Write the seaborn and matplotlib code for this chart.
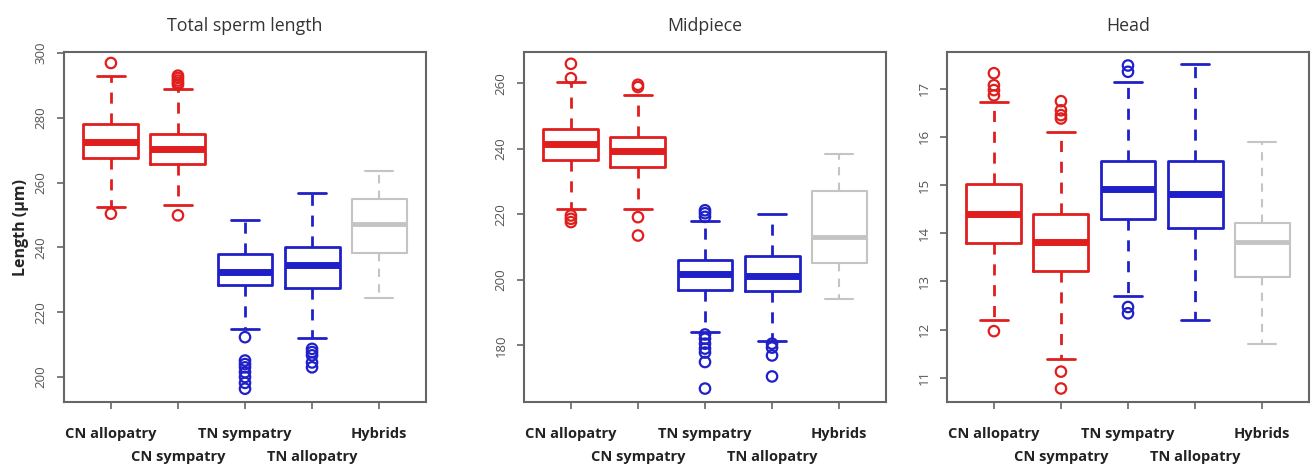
import pandas as pd
import seaborn as sns
import matplotlib.pyplot as plt

# categories
groups = ["CN allopatry", "CN sympatry", "TN sympatry", "TN allopatry", "Hybrids"]
colors = {"CN allopatry": "#e01e1e", "CN sympatry": "#e01e1e",
          "TN sympatry": "#2020c8", "TN allopatry": "#2020c8",
          "Hybrids": "#c4c4c4"}

# Total sperm length: whisker low, Q1, median, Q3, whisker high
total_low = [252.5, 253.0, 214.9, 212.0, 224.4]
total_q1 = [267.7, 265.8, 228.3, 227.6, 238.4]
total_med = [272.5, 270.5, 232.4, 234.5, 247.1]
total_q3 = [278.0, 275.1, 238.1, 240.1, 255.0]
total_high = [292.8, 289.0, 248.4, 256.8, 263.6]
total_out = [[296.9, 250.4],
             [293.0, 292.3, 291.5, 290.8, 290.2, 249.9],
             [212.3, 205.1, 204.0, 203.0, 201.5, 200.0, 198.2, 196.4],
             [208.7, 207.7, 206.7, 204.5, 203.0],
             []]

# Midpiece
mid_low = [221.7, 221.5, 184.0, 181.3, 194.2]
mid_q1 = [236.4, 234.4, 197.0, 196.6, 205.1]
mid_med = [241.5, 239.3, 201.8, 201.3, 213.2]
mid_q3 = [246.1, 243.7, 205.9, 207.4, 227.0]
mid_high = [260.3, 256.4, 217.9, 220.1, 238.4]
mid_out = [[265.9, 261.5, 219.6, 218.6, 217.6],
           [259.5, 258.8, 219.1, 213.5],
           [221.2, 220.3, 219.2, 183.3, 182.0, 180.5, 179.0, 177.8, 174.9, 166.8],
           [180.5, 179.3, 176.9, 170.5],
           []]

# Head
head_low = [12.21, 11.40, 12.69, 12.21, 11.70]
head_q1 = [13.80, 13.21, 14.29, 14.10, 13.10]
head_med = [14.41, 13.82, 14.91, 14.81, 13.82]
head_q3 = [15.02, 14.39, 15.50, 15.50, 14.21]
head_high = [16.72, 16.10, 17.14, 17.52, 15.89]
head_out = [[17.32, 17.07, 16.97, 16.86, 11.97],
            [16.74, 16.55, 16.45, 16.38, 11.13, 10.78],
            [17.48, 17.35, 12.47, 12.34],
            [],
            []]

panels = [
    ("Total sperm length", [total_low, total_q1, total_med, total_q3, total_high], total_out,
     (192.3, 300.3), [200, 220, 240, 260, 280, 300]),
    ("Midpiece", [mid_low, mid_q1, mid_med, mid_q3, mid_high], mid_out,
     (162.7, 269.5), [180, 200, 220, 240, 260]),
    ("Head", [head_low, head_q1, head_med, head_q3, head_high], head_out,
     (10.5, 17.76), [11, 12, 13, 14, 15, 16, 17]),
]

sns.set_style("white")
plt.rcParams["font.family"] = ["Open Sans", "DejaVu Sans"]

fig = plt.figure(figsize=(13.16, 4.72), dpi=100)
lefts = [64 / 1316, 524 / 1316, 947 / 1316]

for i, (title, summary, outliers, ylim, yticks) in enumerate(panels):
    ax = fig.add_axes([lefts[i], 70 / 472, 362 / 1316, 350 / 472])

    rows = []
    for j, g in enumerate(groups):
        for s in summary:
            rows.append({"group": g, "value": s[j]})
    box_df = pd.DataFrame(rows)

    out_rows = []
    for j, g in enumerate(groups):
        for v in outliers[j]:
            out_rows.append({"group": g, "value": v})
    out_df = pd.DataFrame(out_rows, columns=["group", "value"])

    sns.boxplot(data=box_df, x="group", y="value", hue="group", order=groups,
                palette=colors, fill=False, whis=(0, 100), width=0.82,
                linewidth=2, legend=False, ax=ax,
                whiskerprops={"linestyle": (0, (4, 3.5))},
                medianprops={"linewidth": 5})

    # lighter lines for the hybrids
    for line in ax.lines:
        if line.get_color() == colors["Hybrids"]:
            line.set_linewidth(3.5 if line.get_linewidth() > 3 else 1.5)

    sns.stripplot(data=out_df, x="group", y="value", hue="group", order=groups,
                  palette=colors, jitter=False, size=7.5, legend=False, ax=ax)
    for coll in ax.collections:
        fc = coll.get_facecolors()
        coll.set_edgecolors(fc)
        coll.set_facecolors("none")
        coll.set_linewidth(1.6)

    ax.set_xlim(-0.7, 4.7)
    ax.set_ylim(*ylim)
    # labels alternate on two rows, like R does when they don't fit
    ax.set_xticks([0, 2, 4])
    ax.set_xticklabels([groups[0], groups[2], groups[4]], fontweight="bold",
                       fontsize=10.5, color="#222222")
    ax.set_xticks([1, 3], minor=True)
    ax.set_xticklabels([groups[1], groups[3]], minor=True, fontweight="bold",
                       fontsize=10.5, color="#222222")
    ax.set_yticks(yticks)
    ax.set_yticklabels([str(t) for t in yticks], fontsize=9.5, color="#555555",
                       rotation=90, va="center")
    ax.tick_params(axis="both", which="both", direction="out", length=5, width=1.2,
                   color="#666666", bottom=True, left=True)
    ax.tick_params(axis="x", which="major", pad=13)
    ax.tick_params(axis="x", which="minor", pad=29.5)
    ax.tick_params(axis="y", pad=7)
    ax.set_xlabel("")
    if i == 0:
        ax.set_ylabel("Length (μm)", fontweight="bold", fontsize=11.5, labelpad=4)
    else:
        ax.set_ylabel("")
    ax.set_title(title, fontsize=12.8, color="#333333", pad=15)
    for sp in ax.spines.values():
        sp.set_visible(True)
        sp.set_color("#666666")
        sp.set_linewidth(1.5)

plt.savefig("out.png", dpi=100)
